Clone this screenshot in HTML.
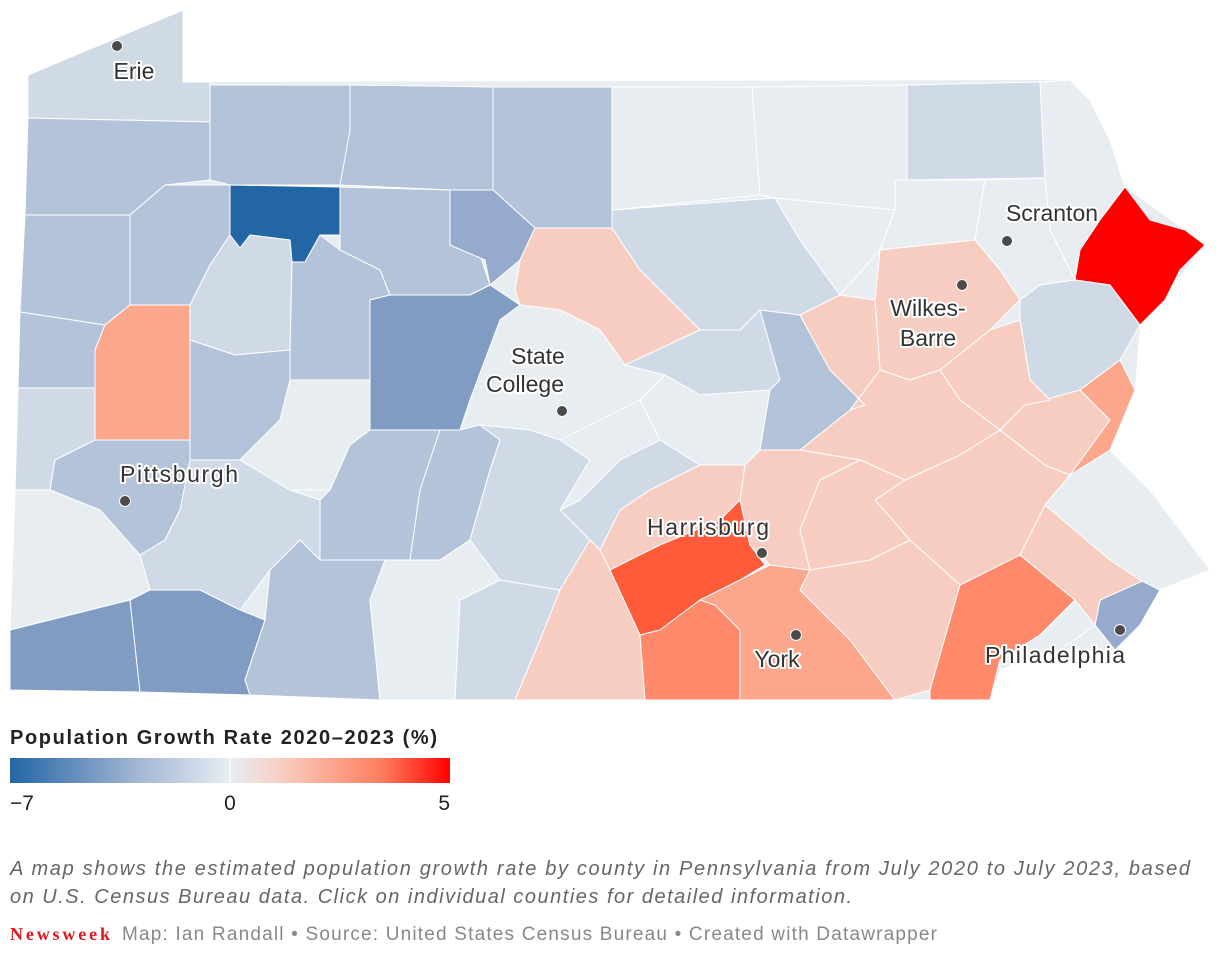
<!DOCTYPE html>
<html><head><meta charset="utf-8"><style>
html,body{margin:0;padding:0;background:#fff;width:1220px;height:956px;overflow:hidden;font-family:"Liberation Sans",sans-serif}
svg{position:absolute;left:0;top:0}
.c{stroke:#fff;stroke-width:1;stroke-linejoin:round}
.lbl{font-family:"Liberation Sans",sans-serif;font-size:23px;fill:#333;stroke:#fff;stroke-width:4;paint-order:stroke;stroke-linejoin:round;text-anchor:middle}
</style></head><body>
<svg width="1220" height="956" viewBox="0 0 1220 956">
<defs><linearGradient id="g" x1="0" x2="1"><stop offset="0" stop-color="#2366a5"/><stop offset="0.28" stop-color="#9fb3d2"/><stop offset="0.5" stop-color="#e8edf2"/><stop offset="0.62" stop-color="#f8cdc1"/><stop offset="0.85" stop-color="#ff7a5a"/><stop offset="1" stop-color="#ff0000"/></linearGradient></defs>
<polygon fill="#e8edf2" points="28,75 183,10 183,82 1040,80 1070,80 1110,140 1125,187 1205,245 1140,325 1135,390 1110,450 1150,490 1210,570 1160,590 1115,650 1060,650 1000,670 990,700 10,690 15,490 18,388 20,312 25,215 28,118"/>
<g class="c">
<polygon fill="#d0dae7" points="28,75 183,10 183,82 210,82 210,122 28,118"/>
<polygon fill="#b3c3da" points="210,85 350,85 350,130 342,185 230,185 210,180 210,122"/>
<polygon fill="#b3c3da" points="350,85 493,87 493,190 450,190 340,185 350,130"/>
<polygon fill="#b3c3da" points="493,87 612,87 612,228 535,228 493,190"/>
<polygon fill="#e8edf2" points="612,87 752,87 760,195 612,210"/>
<polygon fill="#e8edf2" points="752,87 907,85 907,180 895,210 775,198 760,195"/>
<polygon fill="#d0dae7" points="907,85 1040,82 1045,178 907,180"/>
<polygon fill="#e8edf2" points="1040,82 1070,80 1090,100 1110,140 1125,187 1100,220 1080,250 1075,280 1050,230 1045,178"/>
<polygon fill="#ff0000" points="1125,187 1150,220 1185,230 1205,245 1180,270 1165,300 1140,325 1110,285 1075,280 1080,250 1100,220"/>
<polygon fill="#b3c3da" points="28,118 210,122 210,180 165,185 130,215 25,215"/>
<polygon fill="#b3c3da" points="25,215 130,215 130,305 105,325 20,312"/>
<polygon fill="#b3c3da" points="130,215 165,185 230,185 230,235 210,265 190,305 130,305"/>
<polygon fill="#2366a5" points="230,185 340,187 340,235 320,235 305,262 292,262 290,240 250,235 240,248 230,235"/>
<polygon fill="#b3c3da" points="340,187 450,190 450,245 480,255 485,270 490,285 470,295 430,295 390,295 380,270 340,250 340,235"/>
<polygon fill="#96aacd" points="450,190 493,190 535,228 520,260 490,285 485,260 450,245"/>
<polygon fill="#f8cdc1" points="535,228 612,228 640,270 700,330 625,365 600,330 560,310 520,305 515,290 520,260"/>
<polygon fill="#d0dae7" points="612,210 775,198 800,240 840,295 800,315 760,310 740,330 700,330 640,270 612,228"/>
<polygon fill="#e8edf2" points="775,198 895,210 880,250 840,295 800,240"/>
<polygon fill="#e8edf2" points="895,180 985,180 975,240 880,250 895,210"/>
<polygon fill="#e8edf2" points="985,180 1045,178 1050,230 1075,280 1040,285 1020,300 1000,270 975,240"/>
<polygon fill="#f8cdc1" points="880,250 975,240 1000,270 1020,300 990,330 940,370 910,380 880,370 875,300"/>
<polygon fill="#d0dae7" points="1040,285 1075,280 1110,285 1140,325 1120,360 1080,390 1050,400 1030,380 1020,320 1020,300"/>
<polygon fill="#b3c3da" points="20,312 105,325 95,350 95,388 18,388"/>
<polygon fill="#fca68c" points="95,350 105,325 130,305 190,305 190,440 95,440"/>
<polygon fill="#d0dae7" points="190,305 210,265 230,235 240,248 250,235 290,240 292,262 290,350 235,355 190,340"/>
<polygon fill="#b3c3da" points="292,262 305,262 320,235 340,250 380,270 390,295 370,300 370,380 290,380 290,350"/>
<polygon fill="#819cc3" points="370,300 390,295 430,295 470,295 490,285 520,305 500,320 470,400 460,430 370,430"/>
<polygon fill="#e8edf2" points="520,305 560,310 600,330 625,365 665,375 640,400 600,420 560,440 530,430 480,425 460,430 470,400 500,320"/>
<polygon fill="#b3c3da" points="190,340 235,355 290,350 290,380 280,420 240,460 190,460"/>
<polygon fill="#e8edf2" points="290,380 370,380 370,430 350,445 330,490 290,490 240,460 280,420"/>
<polygon fill="#d0dae7" points="18,388 95,388 95,440 55,460 50,490 15,490"/>
<polygon fill="#b3c3da" points="95,440 190,440 190,470 180,510 165,540 140,555 100,510 50,490 55,460"/>
<polygon fill="#e8edf2" points="15,490 50,490 100,510 140,555 150,590 130,600 10,630"/>
<polygon fill="#d0dae7" points="190,460 240,460 290,490 320,500 320,560 300,540 270,570 240,610 200,590 150,590 140,555 165,540 180,510"/>
<polygon fill="#819cc3" points="10,630 130,600 140,692 10,690"/>
<polygon fill="#819cc3" points="130,600 150,590 200,590 240,610 265,620 245,680 250,695 140,692"/>
<polygon fill="#b3c3da" points="265,620 270,570 300,540 320,560 385,560 370,600 380,700 250,695 245,680"/>
<polygon fill="#b3c3da" points="320,500 330,490 350,445 370,430 440,430 420,490 410,560 320,560"/>
<polygon fill="#b3c3da" points="440,430 460,430 480,425 500,440 490,470 470,540 440,560 410,560 420,490"/>
<polygon fill="#e8edf2" points="385,560 410,560 440,560 470,540 500,580 460,600 455,700 380,700 370,600"/>
<polygon fill="#d0dae7" points="480,425 530,430 560,440 590,460 560,510 590,540 560,590 500,580 470,540 490,470 500,440"/>
<polygon fill="#d0dae7" points="500,580 560,590 540,640 515,700 455,700 460,600"/>
<polygon fill="#f8cdc1" points="560,590 590,540 600,550 610,570 640,635 645,700 515,700 540,640"/>
<polygon fill="#e8edf2" points="560,440 600,420 640,400 660,440 620,460 580,500 560,510 590,460"/>
<polygon fill="#d0dae7" points="580,500 620,460 660,440 700,465 650,490 620,510 600,550 590,540 560,510"/>
<polygon fill="#f8cdc1" points="600,550 620,510 650,490 700,465 745,465 740,500 720,520 660,545 610,570"/>
<polygon fill="#ff5a3a" points="610,570 660,545 720,520 740,500 750,545 765,565 740,580 700,600 660,630 640,635"/>
<polygon fill="#ff8a6b" points="640,635 660,630 700,600 715,605 740,630 740,700 645,700"/>
<polygon fill="#fca68c" points="700,600 740,580 770,565 810,570 800,590 850,640 895,700 740,700 740,630 715,605"/>
<polygon fill="#f8cdc1" points="800,590 810,570 870,560 910,540 960,585 930,690 895,700 850,640"/>
<polygon fill="#ff8a6b" points="960,585 1020,555 1075,600 1040,635 1000,660 990,700 930,700 930,690"/>
<polygon fill="#e8edf2" points="1040,635 1075,600 1095,625 1060,650 1000,670 1000,660"/>
<polygon fill="#96aacd" points="1100,600 1140,580 1160,590 1140,625 1115,650 1095,625"/>
<polygon fill="#f8cdc1" points="1020,555 1045,505 1110,560 1145,580 1100,600 1095,625 1075,600"/>
<polygon fill="#e8edf2" points="1045,505 1070,475 1110,450 1150,490 1210,570 1160,590 1140,580 1110,560"/>
<polygon fill="#f8cdc1" points="905,480 960,455 1000,430 1045,465 1070,475 1045,505 1020,555 960,585 910,540 875,500"/>
<polygon fill="#f8cdc1" points="1025,405 1080,390 1110,420 1070,475 1045,465 1000,430"/>
<polygon fill="#fca68c" points="1080,390 1120,360 1135,390 1110,450 1070,475 1110,420"/>
<polygon fill="#f8cdc1" points="940,370 990,330 1020,320 1030,380 1050,400 1025,405 1000,430 960,400"/>
<polygon fill="#f8cdc1" points="880,370 910,380 940,370 960,400 1000,430 960,455 905,480 860,460 800,450 850,410"/>
<polygon fill="#f8cdc1" points="745,465 760,450 800,450 860,460 820,480 800,530 810,570 770,565 750,545 740,500"/>
<polygon fill="#f8cdc1" points="820,480 860,460 905,480 875,500 910,540 870,560 810,570 800,530"/>
<polygon fill="#d0dae7" points="700,330 740,330 760,310 780,380 770,390 700,395 665,375 625,365"/>
<polygon fill="#e8edf2" points="665,375 700,395 770,390 760,450 745,465 700,465 660,440 640,400"/>
<polygon fill="#b3c3da" points="760,310 800,315 830,370 865,405 850,410 800,450 760,450 770,390 780,380"/>
<polygon fill="#f8cdc1" points="800,315 840,295 875,300 880,370 850,410 865,405 830,370"/>
</g>
<g fill="#4a4a4a" stroke="#fff" stroke-width="1">
<circle cx="117" cy="46" r="5.5"/><circle cx="1007" cy="241" r="5.5"/><circle cx="962" cy="285" r="5.5"/><circle cx="562" cy="411" r="5.5"/><circle cx="125" cy="501" r="5.5"/><circle cx="762" cy="553" r="5.5"/><circle cx="796" cy="635" r="5.5"/><circle cx="1120" cy="630" r="5.5"/>
</g>
<text class="lbl" x="134" y="79">Erie</text>
<text class="lbl" x="1052" y="221">Scranton</text>
<text class="lbl" x="928" y="316">Wilkes-</text>
<text class="lbl" x="928" y="346">Barre</text>
<text class="lbl" x="538" y="364">State</text>
<text class="lbl" x="525" y="392">College</text>
<text class="lbl" x="179" y="482" textLength="118">Pittsburgh</text>
<text class="lbl" x="708" y="535" textLength="122">Harrisburg</text>
<text class="lbl" x="777" y="667">York</text>
<text class="lbl" x="1055" y="663" textLength="140">Philadelphia</text>
<text x="10" y="744" font-size="20" font-weight="bold" fill="#222" font-family="Liberation Sans,sans-serif" textLength="427">Population Growth Rate 2020–2023 (%)</text>
<rect x="10" y="758" width="440" height="25" fill="url(#g)"/>
<line x1="230" y1="758" x2="230" y2="783" stroke="#fff" stroke-width="1"/>
<g font-size="21" fill="#222" font-family="Liberation Sans,sans-serif">
<text x="10" y="810">−7</text><text x="230" y="810" text-anchor="middle">0</text><text x="450" y="810" text-anchor="end">5</text>
</g>
<g font-size="20" font-style="italic" fill="#666" font-family="Liberation Sans,sans-serif">
<text x="10" y="875" textLength="1180">A map shows the estimated population growth rate by county in Pennsylvania from July 2020 to July 2023, based</text>
<text x="10" y="903" textLength="842">on U.S. Census Bureau data. Click on individual counties for detailed information.</text>
</g>
<text x="10" y="940" font-size="18" font-weight="bold" fill="#e4161c" font-family="Liberation Serif,serif" textLength="100">Newsweek</text>
<text x="122" y="940" font-size="19" fill="#888" font-family="Liberation Sans,sans-serif" textLength="815">Map: Ian Randall • Source: United States Census Bureau • Created with Datawrapper</text>
</svg>
</body></html>
